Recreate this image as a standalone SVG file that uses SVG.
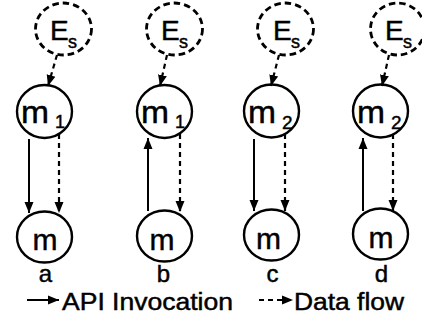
<svg xmlns="http://www.w3.org/2000/svg" width="422" height="324" viewBox="0 0 422 324">
  <style>
    .node { fill: #fff; stroke: #000; stroke-width: 2.4; }
    .env { fill: #fff; stroke: #000; stroke-width: 2.8; stroke-dasharray: 6.5 4; }
    .txt { font-family: "Liberation Sans", Arial, sans-serif; fill: #000; stroke: #000; stroke-width: 0.45; }
    .api { stroke: #000; stroke-width: 2; fill: none; }
    .data { stroke: #000; stroke-width: 2.2; fill: none; stroke-dasharray: 5 4; }
  </style>
  <defs>
    <marker id="head" markerUnits="userSpaceOnUse" markerWidth="12" markerHeight="12" viewBox="0 0 12 12" refX="11" refY="6" orient="auto">
      <path d="M0,1.5 L11,6 L0,10.5 Z" fill="#000"/>
    </marker>
  </defs>

  <rect width="422" height="324" fill="#fff"/>

  <!-- column a -->
  <g id="es-a">
    <ellipse class="env" cx="63.5" cy="29" rx="28" ry="26"/>
    <text class="txt" x="50" y="40" font-size="28">E</text>
    <text class="txt" x="68" y="48" font-size="18">s</text>
  </g>
  <g id="m1-a">
    <ellipse class="node" cx="44.5" cy="111.5" rx="27.5" ry="26.5"/>
    <text class="txt" x="21" y="123" font-size="31" textLength="28" lengthAdjust="spacingAndGlyphs">m</text>
    <text class="txt" x="55" y="128" font-size="18">1</text>
  </g>
  <g id="m-a">
    <ellipse class="node" cx="44.5" cy="237" rx="27.5" ry="25.5"/>
    <text class="txt" x="45" y="250" font-size="30" text-anchor="middle">m</text>
    <text class="txt" x="45.5" y="282" font-size="24" text-anchor="middle">a</text>
  </g>

  <!-- column b -->
  <g id="es-b">
    <ellipse class="env" cx="174.5" cy="29" rx="28" ry="26"/>
    <text class="txt" x="161" y="40" font-size="28">E</text>
    <text class="txt" x="179" y="48" font-size="18">s</text>
  </g>
  <g id="m1-b">
    <ellipse class="node" cx="164.5" cy="111.5" rx="27.5" ry="26.5"/>
    <text class="txt" x="141" y="123" font-size="31" textLength="28" lengthAdjust="spacingAndGlyphs">m</text>
    <text class="txt" x="175" y="128" font-size="18">1</text>
  </g>
  <g id="m-b">
    <ellipse class="node" cx="164.5" cy="236" rx="27.5" ry="25.5"/>
    <text class="txt" x="162" y="250" font-size="30" text-anchor="middle">m</text>
    <text class="txt" x="163.5" y="282" font-size="24" text-anchor="middle">b</text>
  </g>

  <!-- column c -->
  <g id="es-c">
    <ellipse class="env" cx="285.5" cy="29" rx="28" ry="26"/>
    <text class="txt" x="273" y="40" font-size="28">E</text>
    <text class="txt" x="291" y="48" font-size="18">s</text>
  </g>
  <g id="m2-c">
    <ellipse class="node" cx="271.5" cy="111" rx="27.5" ry="26.5"/>
    <text class="txt" x="248" y="123" font-size="31" textLength="28" lengthAdjust="spacingAndGlyphs">m</text>
    <text class="txt" x="282" y="129" font-size="19">2</text>
  </g>
  <g id="m-c">
    <ellipse class="node" cx="271.5" cy="235" rx="27.5" ry="25.5"/>
    <text class="txt" x="268.5" y="249" font-size="30" text-anchor="middle">m</text>
    <text class="txt" x="272.5" y="282" font-size="24" text-anchor="middle">c</text>
  </g>

  <!-- column d -->
  <g id="es-d">
    <ellipse class="env" cx="397.5" cy="29" rx="27" ry="26"/>
    <text class="txt" x="385" y="40" font-size="28">E</text>
    <text class="txt" x="403" y="48" font-size="18">s</text>
  </g>
  <g id="m2-d">
    <ellipse class="node" cx="380.5" cy="111" rx="27.5" ry="26.5"/>
    <text class="txt" x="357" y="123" font-size="31" textLength="28" lengthAdjust="spacingAndGlyphs">m</text>
    <text class="txt" x="391" y="129" font-size="19">2</text>
  </g>
  <g id="m-d">
    <ellipse class="node" cx="380.5" cy="234" rx="27.5" ry="25.5"/>
    <text class="txt" x="381" y="248" font-size="30" text-anchor="middle">m</text>
    <text class="txt" x="381.5" y="282" font-size="24" text-anchor="middle">d</text>
  </g>

  <!-- connectors -->
  <g id="connectors">
    <!-- environment feeds -->
    <line class="data" x1="57" y1="55" x2="48" y2="86" marker-end="url(#head)"/>
    <line class="data" x1="167" y1="55" x2="160" y2="86" marker-end="url(#head)"/>
    <line class="data" x1="279" y1="55" x2="271" y2="86" marker-end="url(#head)"/>
    <line class="data" x1="389" y1="55" x2="382" y2="86" marker-end="url(#head)"/>
    <!-- a -->
    <line class="api" x1="29" y1="139" x2="29" y2="213" marker-end="url(#head)"/>
    <line class="data" x1="59" y1="134" x2="59" y2="213" marker-end="url(#head)"/>
    <!-- b -->
    <line class="api" x1="148" y1="211" x2="148" y2="138" marker-end="url(#head)"/>
    <line class="data" x1="180" y1="134" x2="180" y2="212" marker-end="url(#head)"/>
    <!-- c -->
    <line class="api" x1="254" y1="139" x2="254" y2="211" marker-end="url(#head)"/>
    <line class="data" x1="285" y1="134" x2="285" y2="211" marker-end="url(#head)"/>
    <!-- d -->
    <line class="api" x1="363" y1="211" x2="363" y2="138" marker-end="url(#head)"/>
    <line class="data" x1="393" y1="134" x2="393" y2="211" marker-end="url(#head)"/>
  </g>

  <!-- legend -->
  <g id="legend">
    <line class="api" x1="27" y1="300" x2="59" y2="300" marker-end="url(#head)"/>
    <text class="txt" x="62" y="310" font-size="23" textLength="171" lengthAdjust="spacingAndGlyphs">API Invocation</text>
    <line class="data" x1="259" y1="300" x2="293" y2="300" stroke-dasharray="4 3" marker-end="url(#head)"/>
    <text class="txt" x="294" y="310" font-size="23" textLength="110" lengthAdjust="spacingAndGlyphs">Data flow</text>
  </g>
</svg>
